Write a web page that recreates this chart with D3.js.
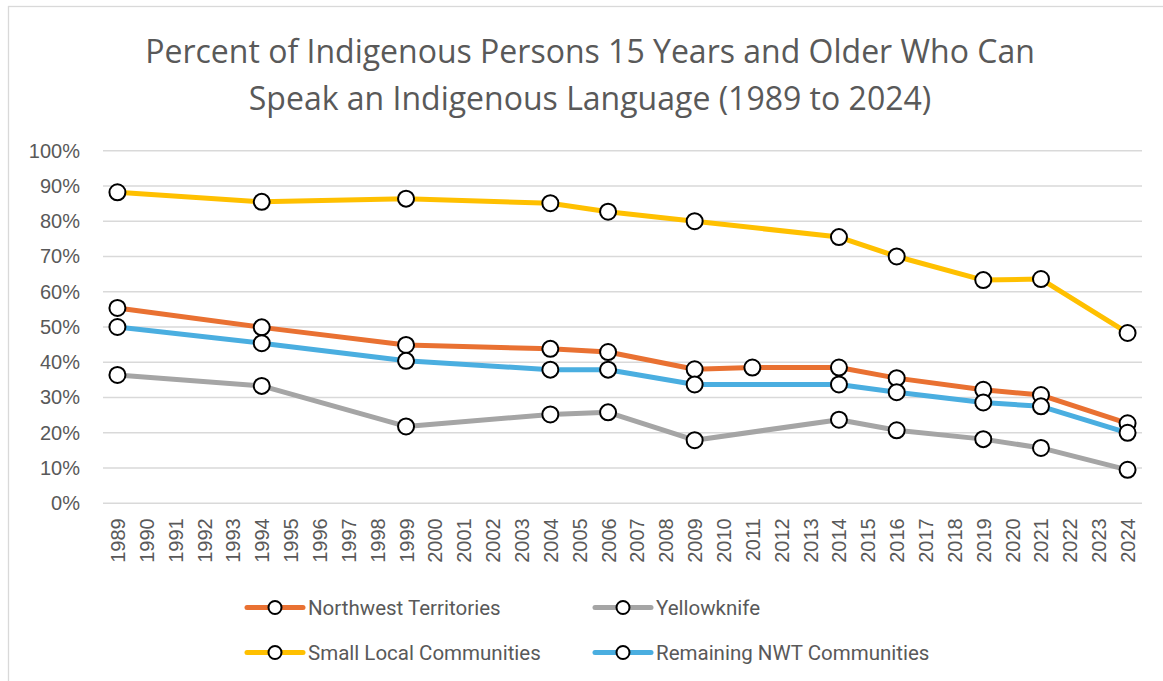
<!DOCTYPE html>
<html>
<head>
<meta charset="utf-8">
<script src="https://cdn.jsdelivr.net/npm/d3@7"></script>
<style>
  body { margin: 0; background: #fff; }
  svg { display: block; }
</style>
</head>
<body>
<script>
// years on the category axis
var years = d3.range(1989, 2025).map(String);

// survey values (percent), null where no survey for that series
var surveyYears = ['1989', '1994', '1999', '2004', '2006', '2009', '2011', '2014', '2016', '2019', '2021', '2024'];
var nwt         = [55.4, 49.9, 44.9, 43.8, 42.9, 38.0, 38.5, 38.5, 35.5, 32.2, 30.7, 22.7];
var yellowknife = [36.4, 33.3, 21.8, 25.2, 25.8, 17.9, null, 23.7, 20.7, 18.2, 15.7, 9.5];
var smallLocal  = [88.2, 85.5, 86.4, 85.1, 82.7, 80.0, null, 75.5, 70.0, 63.3, 63.6, 48.3];
var remaining   = [50.0, 45.4, 40.4, 37.9, 37.9, 33.7, null, 33.7, 31.5, 28.6, 27.5, 20.0];

var yTicks = [0, 10, 20, 30, 40, 50, 60, 70, 80, 90, 100];

var seriesNames = ['Northwest Territories', 'Yellowknife', 'Small Local Communities', 'Remaining NWT Communities'];
var seriesValues = [nwt, yellowknife, smallLocal, remaining];
var seriesColors = ['#E97132', '#A5A5A5', '#FFC000', '#4AAEE0'];

var W = 1163, H = 681;
var margin = { left: 103, right: 21, top: 150.7, bottom: 177.7 };

var svg = d3.select('body').append('svg').attr('width', W).attr('height', H);

// chart border
svg.append('rect')
    .attr('x', 8.5).attr('y', 6.5)
    .attr('width', W).attr('height', H)
    .attr('fill', 'none').attr('stroke', '#d9d9d9').attr('stroke-width', 1.3);

// title
var title = svg.append('text')
    .attr('text-anchor', 'middle')
    .attr('font-family', 'Open Sans, sans-serif')
    .attr('font-size', 32)
    .attr('fill', '#595959');
title.append('tspan').attr('x', 590).attr('y', 63).text('Percent of Indigenous Persons 15 Years and Older Who Can');
title.append('tspan').attr('x', 590).attr('y', 110).text('Speak an Indigenous Language (1989 to 2024)');

var x = d3.scaleBand().domain(years).range([margin.left, W - margin.right]);
var y = d3.scaleLinear().domain([0, 100]).range([H - margin.bottom, margin.top]);

// gridlines
svg.append('g').selectAll('line')
    .data(yTicks)
    .enter()
    .append('line')
    .attr('x1', margin.left).attr('x2', W - margin.right)
    .attr('y1', function(d) { return y(d); })
    .attr('y2', function(d) { return y(d); })
    .attr('stroke', '#d9d9d9').attr('stroke-width', 1.5);

// y axis labels
var yAxis = svg.append('g')
    .attr('transform', 'translate(' + (margin.left - 23) + ',0)')
    .call(d3.axisLeft(y).tickValues(yTicks).tickSize(0).tickPadding(0).tickFormat(function(d) { return d + '%'; }));
yAxis.select('.domain').remove();
yAxis.selectAll('text')
    .attr('font-family', 'Liberation Sans, Arial, sans-serif')
    .attr('font-size', 20)
    .attr('fill', '#595959');

// x axis labels, rotated
var xAxis = svg.append('g')
    .attr('transform', 'translate(0,' + (H - margin.bottom) + ')')
    .call(d3.axisBottom(x).tickSize(0).tickPadding(0));
xAxis.select('.domain').remove();
xAxis.selectAll('text')
    .attr('font-family', 'Liberation Sans, Arial, sans-serif')
    .attr('font-size', 20)
    .attr('fill', '#595959')
    .attr('text-anchor', 'end')
    .attr('transform', 'translate(7.5,15) rotate(-90)')
    .attr('dy', 0);

// series lines and markers
var line = d3.line()
    .x(function(d) { return x(d.year) + x.bandwidth() / 2; })
    .y(function(d) { return y(d.value); });

seriesNames.forEach(function(name, i) {
    var pts = surveyYears.map(function(yr, j) { return { year: yr, value: seriesValues[i][j] }; })
        .filter(function(d) { return d.value != null; });
    var g = svg.append('g');
    g.append('path')
        .datum(pts)
        .attr('d', line)
        .attr('fill', 'none')
        .attr('stroke', seriesColors[i])
        .attr('stroke-width', 5)
        .attr('stroke-linejoin', 'round');
    g.selectAll('circle')
        .data(pts)
        .enter()
        .append('circle')
        .attr('cx', function(d) { return x(d.year) + x.bandwidth() / 2; })
        .attr('cy', function(d) { return y(d.value); })
        .attr('r', 8)
        .attr('fill', '#fff')
        .attr('stroke', '#000')
        .attr('stroke-width', 2);
});

// legend, two columns
var legendX = [247, 595], legendY = [607.5, 652.5];
seriesNames.forEach(function(name, i) {
    var lx = legendX[i % 2], ly = legendY[Math.floor(i / 2)];
    var g = svg.append('g').attr('transform', 'translate(' + lx + ',' + ly + ')');
    g.append('line').attr('x1', 0).attr('x2', 56).attr('y1', 0).attr('y2', 0)
        .attr('stroke', seriesColors[i]).attr('stroke-width', 5).attr('stroke-linecap', 'round');
    g.append('circle').attr('cx', 28).attr('cy', 0).attr('r', 6.5)
        .attr('fill', '#fff').attr('stroke', '#000').attr('stroke-width', 2);
    g.append('text').attr('x', 61).attr('y', 7)
        .attr('font-family', 'Roboto, sans-serif')
        .attr('font-size', 20.5)
        .attr('fill', '#595959')
        .text(name);
});
</script>
</body>
</html>
